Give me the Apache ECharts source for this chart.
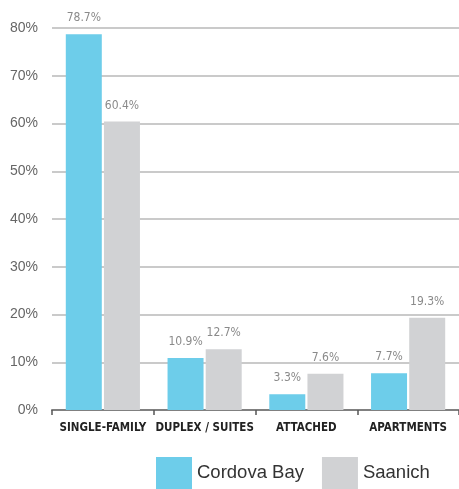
<!DOCTYPE html>
<html><head><meta charset="utf-8">
<script src="https://cdn.jsdelivr.net/npm/echarts@6/dist/echarts.min.js"></script>
<style>html,body{margin:0;padding:0;background:#fff}#c{width:459px;height:489px}</style>
</head><body><div id="c"></div>
<script>
var categories = ['SINGLE-FAMILY', 'DUPLEX / SUITES', 'ATTACHED', 'APARTMENTS'];
var cordovaBay = [78.7, 10.9, 3.3, 7.7];
var saanich = [60.4, 12.7, 7.6, 19.3];
var seriesNames = ['Cordova Bay', 'Saanich'];

var chart = echarts.init(document.getElementById('c'));
var labelStyle = {
  show: true, position: 'top', distance: 10,
  formatter: function (p) { return p.value.toFixed(1) + '%'; },
  fontFamily: '"Liberation Sans Narrow", "DejaVu Sans Condensed", "Roboto", sans-serif',
  fontSize: 12, color: '#8a8a8a'
};
chart.setOption({
  animation: false,
  grid: { left: 52, right: -5, top: 28, bottom: 79, containLabel: false },
  legend: {
    left: 156, top: 457, padding: 0, itemWidth: 36, itemHeight: 32, itemGap: 18,
    icon: 'rect',
    textStyle: { fontFamily: '"Liberation Sans", Arial, sans-serif', fontSize: 18.5, color: '#333' },
    data: seriesNames
  },
  xAxis: {
    type: 'category', data: categories,
    axisLine: { lineStyle: { color: '#808080', width: 2 } },
    axisTick: { show: true, length: 5, lineStyle: { color: '#555', width: 1.5 } },
    axisLabel: {
      margin: 12, interval: 0,
      fontFamily: '"Liberation Sans Narrow", "DejaVu Sans Condensed", "Roboto Condensed", "Roboto", sans-serif',
      fontWeight: 'bold', fontSize: 11.5, color: '#222'
    }
  },
  yAxis: {
    type: 'value', min: 0, max: 80, interval: 10,
    axisLine: { show: false }, axisTick: { show: false },
    axisLabel: {
      margin: 14, formatter: '{value}%',
      fontFamily: '"Liberation Sans", Arial, sans-serif', fontSize: 14, color: '#666'
    },
    splitLine: { lineStyle: { color: '#b8b8b8', width: 1.5 } }
  },
  series: [
    { name: seriesNames[0], type: 'bar', data: cordovaBay, barWidth: 36, barGap: '6%',
      itemStyle: { color: '#6DCDEA' }, label: labelStyle },
    { name: seriesNames[1], type: 'bar', data: saanich, barWidth: 36, barGap: '6%',
      itemStyle: { color: '#D1D2D4' }, label: labelStyle }
  ]
});
</script></body></html>
